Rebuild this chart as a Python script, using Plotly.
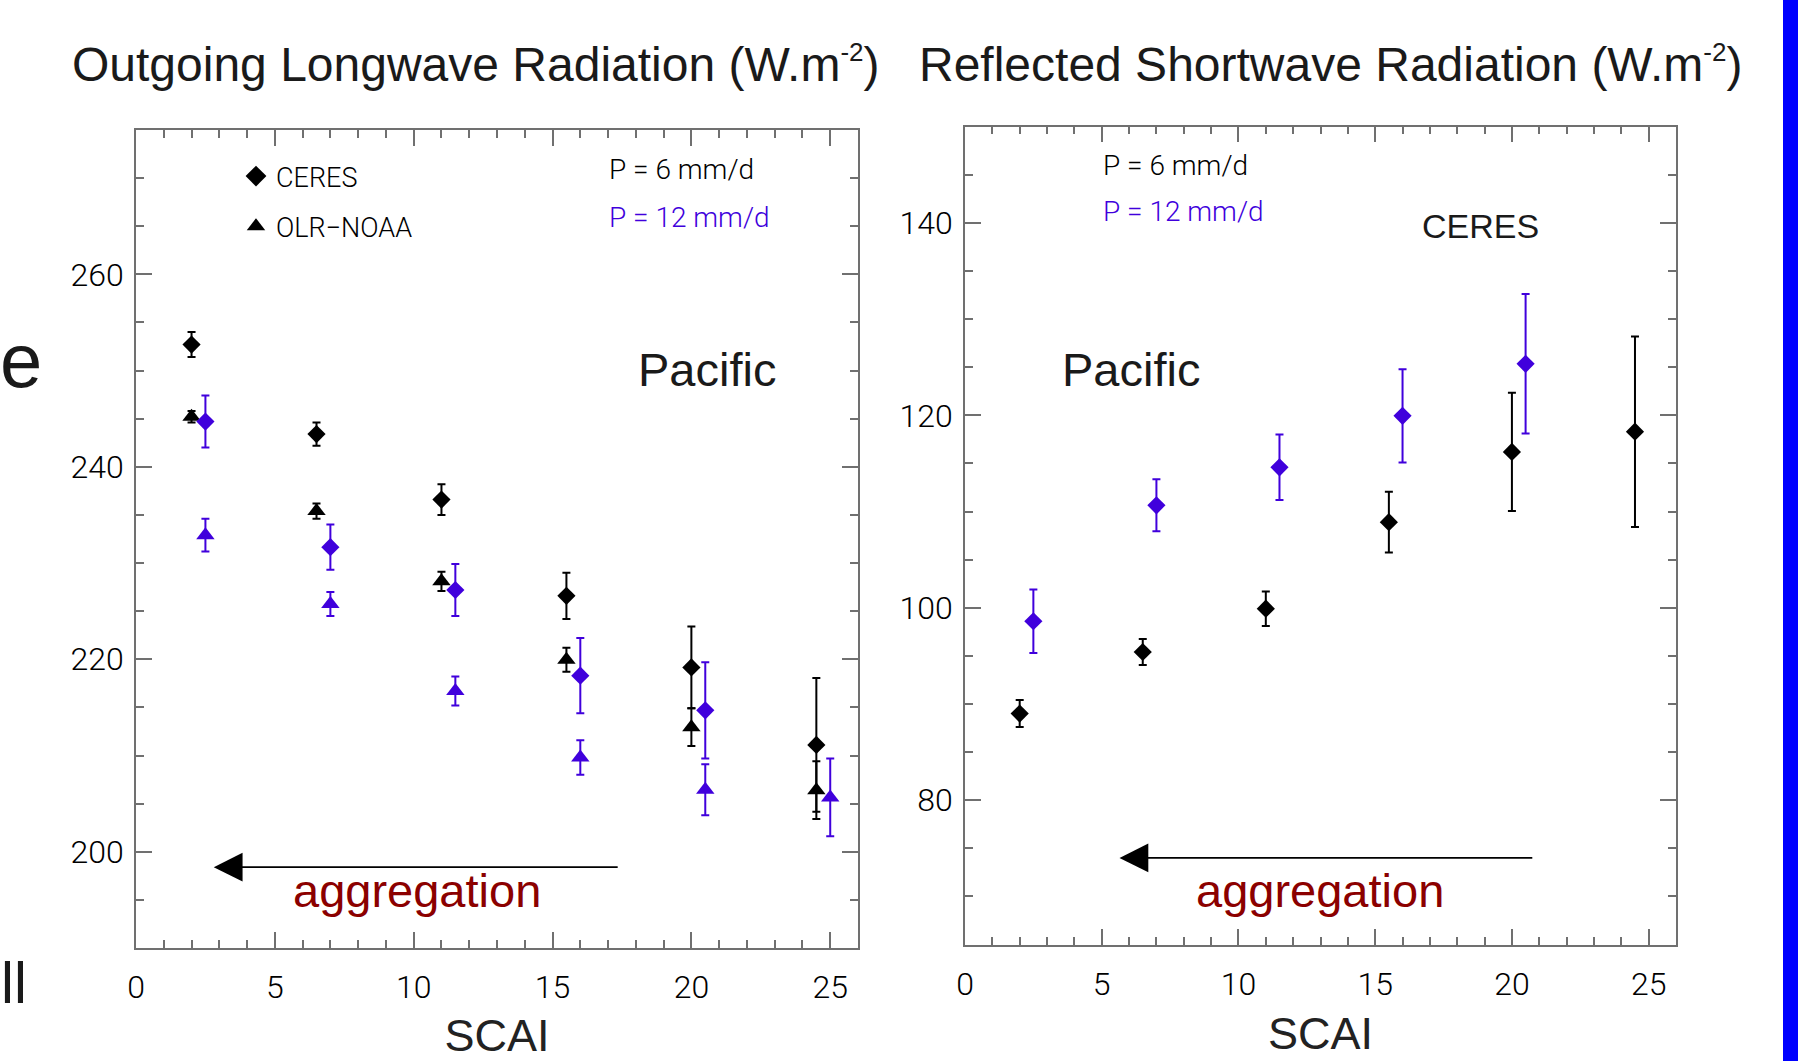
import plotly.graph_objects as go

W, H = 1806, 1061

# ---------------- data ----------------
scai_p6 = [2, 6.5, 11, 15.5, 20, 24.5]
scai_p12 = [2.5, 7, 11.5, 16, 20.5, 25]

olr_ceres_p6 = [252.7, 243.4, 236.6, 226.6, 219.15, 211.1]
olr_ceres_p6_err = [1.3, 1.2, 1.6, 2.4, 4.25, 6.95]
olr_noaa_p6 = [245.2, 235.4, 228.1, 219.95, 212.95, 206.4]
olr_noaa_p6_err = [0.6, 0.8, 1.0, 1.25, 1.95, 3.0]

scai_ceres_p12 = [2.5, 7, 11.5, 16, 20.5]
olr_ceres_p12 = [244.7, 231.65, 227.2, 218.3, 214.7]
olr_ceres_p12_err = [2.7, 2.35, 2.7, 3.9, 5.0]
olr_noaa_p12 = [232.9, 225.75, 216.7, 209.8, 206.45, 205.65]
olr_noaa_p12_err = [1.7, 1.25, 1.5, 1.8, 2.65, 4.05]

sw_ceres_p6 = [89.0, 95.4, 99.9, 108.9, 116.2, 118.3]
sw_ceres_p6_err = [1.4, 1.35, 1.8, 3.15, 6.15, 9.9]
sw_ceres_p12 = [98.6, 110.65, 114.6, 119.95, 125.35]
sw_ceres_p12_err = [3.3, 2.7, 3.4, 4.85, 7.25]

x_ticks = [0, 5, 10, 15, 20, 25]
olr_ticks = [200, 220, 240, 260]
sw_ticks = [80, 100, 120, 140]

BLACK = "#000000"
BLUE = "#4000dc"
DARKRED = "#8b0000"
FRAME = "#707070"
HELV = "Liberation Sans, Arial, Helvetica, sans-serif"
THIN = "Roboto, Liberation Sans, sans-serif"


def px(x):
    return x / W


def py(y):
    return 1 - y / H


fig = go.Figure()


def add_series(x, y, err, color, symbol, size, xa, ya):
    fig.add_trace(go.Scatter(
        x=x, y=y, mode="markers", xaxis=xa, yaxis=ya, showlegend=False,
        marker=dict(symbol=symbol, size=size, color=color, line=dict(width=0)),
        error_y=dict(type="data", array=err, visible=True, color=color,
                     thickness=2, width=4),
    ))


# Left panel: OLR
add_series(scai_p6, olr_noaa_p6, olr_noaa_p6_err, BLACK, "triangle-up", 16, "x", "y")
add_series(scai_p6, olr_ceres_p6, olr_ceres_p6_err, BLACK, "diamond", 14, "x", "y")
add_series(scai_p12, olr_noaa_p12, olr_noaa_p12_err, BLUE, "triangle-up", 16, "x", "y")
add_series(scai_ceres_p12, olr_ceres_p12, olr_ceres_p12_err, BLUE, "diamond", 14, "x", "y")

# legend entries (black symbols)
fig.add_trace(go.Scatter(x=[None], y=[None], mode="markers", name="CERES",
                         legendgroup="a", showlegend=True, xaxis="x", yaxis="y",
                         marker=dict(symbol="diamond", size=16, color=BLACK)))
fig.add_trace(go.Scatter(x=[None], y=[None], mode="markers", name="OLR\u2212NOAA",
                         legendgroup="b", showlegend=True, xaxis="x", yaxis="y",
                         marker=dict(symbol="triangle-up", size=16, color=BLACK)))

# Right panel: SW
add_series(scai_p6, sw_ceres_p6, sw_ceres_p6_err, BLACK, "diamond", 14, "x2", "y2")
add_series(scai_ceres_p12, sw_ceres_p12, sw_ceres_p12_err, BLUE, "diamond", 14, "x2", "y2")

axis_common = dict(
    showgrid=False, zeroline=False, showline=True, linecolor=FRAME, linewidth=1.5,
    mirror="allticks", ticks="inside", ticklen=16, tickwidth=1.5, tickcolor=FRAME,
    tickfont=dict(family=THIN, size=32, color=BLACK, weight=300),
    automargin=False,
)

xaxis_common = dict(axis_common, range=[0, 26], tickvals=x_ticks,
                    minor=dict(dtick=1, tick0=0, ticks="inside", ticklen=8,
                               tickwidth=1.5, tickcolor=FRAME, showgrid=False),
                    ticklabelstandoff=10,
                    title=dict(text="SCAI", font=dict(family=HELV, size=45, color="#222222"),
                               standoff=16))

fig.update_layout(
    width=W, height=H,
    margin=dict(l=0, r=0, t=0, b=0),
    paper_bgcolor="white", plot_bgcolor="white",
    xaxis=dict(xaxis_common, domain=[px(136), px(858)], anchor="y"),
    yaxis=dict(axis_common, domain=[py(948), py(130)], range=[190, 275],
               tickvals=olr_ticks, anchor="x", ticklabelstandoff=4,
               minor=dict(dtick=5, tick0=0, ticks="inside", ticklen=8,
                          tickwidth=1.5, tickcolor=FRAME, showgrid=False)),
    xaxis2=dict(xaxis_common, domain=[px(965), px(1676)], anchor="y2"),
    yaxis2=dict(axis_common, domain=[py(944.5), py(126.7)], range=[65, 150],
                tickvals=sw_ticks, anchor="x2", ticklabelstandoff=4,
                minor=dict(dtick=5, tick0=0, ticks="inside", ticklen=8,
                           tickwidth=1.5, tickcolor=FRAME, showgrid=False)),
    legend=dict(x=px(236), y=py(152), xanchor="left", yanchor="top",
                bgcolor="rgba(0,0,0,0)", borderwidth=0, tracegroupgap=12,
                font=dict(family=THIN, size=27, color=BLACK, weight=300),
                itemsizing="trace"),
    showlegend=True,
)


def ann(text, x, y, size, color=BLACK, family=HELV, xanchor="left", yanchor="middle", weight=None):
    f = dict(family=family, size=size, color=color)
    if weight:
        f["weight"] = weight
    fig.add_annotation(text=text, x=px(x), y=py(y), xref="paper", yref="paper",
                       xanchor=xanchor, yanchor=yanchor, showarrow=False, font=f)


SUP = "<sup><span style='font-size:26px'>-2</span></sup>"
# titles
ann("Outgoing Longwave Radiation (W.m" + SUP + ")", 70, 64, 48, color="#1a1a1a")
ann("Reflected Shortwave Radiation (W.m" + SUP + ")", 917, 64, 48, color="#1a1a1a")

# P labels
ann("P = 6 mm/d", 607, 169, 28, family=THIN, weight=300)
ann("P = 12 mm/d", 607, 218, 28, color=BLUE, family=THIN, weight=300)
ann("P = 6 mm/d", 1101, 165, 28, family=THIN, weight=300)
ann("P = 12 mm/d", 1101, 212, 28, color=BLUE, family=THIN, weight=300)

ann("CERES", 1480, 226, 34, color="#1a1a1a", xanchor="center")
ann("Pacific", 707, 369, 47, color="#1a1a1a", xanchor="center")
ann("Pacific", 1131, 369, 47, color="#1a1a1a", xanchor="center")
ann("aggregation", 417, 890, 47, color=DARKRED, xanchor="center")
ann("aggregation", 1320, 890, 47, color=DARKRED, xanchor="center")

# arrows (pointing toward low SCAI)
fig.add_annotation(x=2.8, y=198.4, ax=17.4, ay=198.4, xref="x", yref="y",
                   axref="x", ayref="y", showarrow=True, arrowhead=2,
                   arrowsize=3.6, arrowwidth=1.6, arrowcolor=BLACK, text="")
fig.add_annotation(x=5.65, y=74.0, ax=20.8, ay=74.0, xref="x2", yref="y2",
                   axref="x2", ayref="y2", showarrow=True, arrowhead=2,
                   arrowsize=3.6, arrowwidth=1.6, arrowcolor=BLACK, text="")

# slide fragments at the edges
ann("e", 44, 360, 76, color="#1a1a1a", xanchor="right")
ann("ll", 29, 982, 58, color="#1a1a1a", xanchor="right")
fig.add_shape(type="rect", xref="paper", yref="paper", x0=px(1783), x1=px(1798),
              y0=0, y1=1, fillcolor="#0000ff", line=dict(width=0), layer="above")

fig.write_html("out.html", config={"displayModeBar": False},
               post_script="document.body.style.margin='0px';document.body.style.overflow='hidden';")
